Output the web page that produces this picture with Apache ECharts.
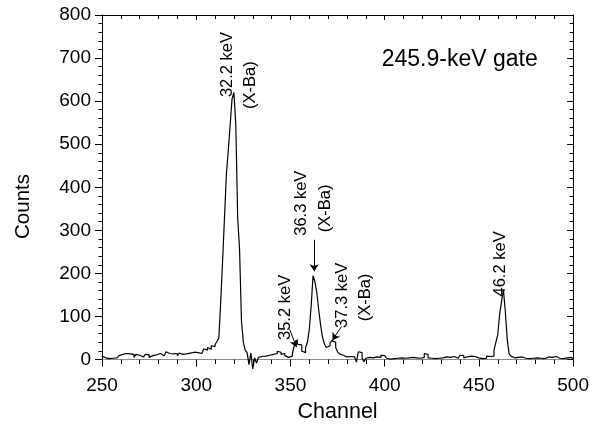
<!DOCTYPE html>
<html><head><meta charset="utf-8">
<script src="https://cdn.jsdelivr.net/npm/echarts@6/dist/echarts.min.js"></script>
<style>html,body{margin:0;padding:0;background:#fff}#c{width:592px;height:428px}</style>
</head><body><div id="c"></div>
<script>
const FONT = '"Liberation Sans", Arial, Helvetica, sans-serif';
const firstChannel = 250;
// counts per channel, channels 250..500
const counts = [
  8, 4, 6, 2, 4, 3, 5, 4, 6, 9,
  12, 10, 14, 11, 13, 9, 12, 5, 12, 10,
  13, 6, 10, 12, 11, 5, 9, 7, 11, 8,
  14, 10, 9, 12, 18, 14, 10, 13, 11, 14,
  9, 15, 12, 16, 13, 14, 15, 13, 17, 15,
  16, 20, 14, 18, 25, 22, 28, 24, 32, 30,
  35, 42, 50, 135, 230, 330, 430, 485, 545, 605,
  620, 545, 330, 255, 90, 40, 22, 16, -12, 15,
  -22, 4, -8, 5, 7, 4, 8, 6, 10, 7,
  12, 9, 14, 19, 17, 12, 14, 9, 5, 3,
  8, 14, 32, 45, 35, 34, 20, 16, 28, 40,
  70, 125, 195, 180, 155, 115, 80, 52, 36, 28,
  32, 38, 44, 40, 28, 18, 13, 10, 12, 6,
  4, 7, 3, 6, 2, -6, 18, 16, 4, -5,
  3, 5, 2, 4, 3, 6, 2, 5, 10, 9,
  8, 3, 1, 4, 2, 5, 3, 2, 4, 6,
  3, 7, 4, 2, 5, 3, 4, 6, 3, 2,
  5, 14, 12, 4, 3, 6, 2, 4, 3, 5,
  4, 2, 6, 3, 5, 2, 7, 4, 3, 6,
  10, 9, 4, 6, 3, 8, 5, 7, 3, 4,
  6, 2, 5, 3, 8, 7, 6, 8, 22, 40,
  58, 105, 135, 162, 112, 48, 13, 8, 4, 7,
  5, 2, 6, 4, 3, 5, 2, 4, 3, 7,
  4, 6, 3, 5, 2, 4, 6, 3, 5, 4,
  7, 6, 3, 5, 2, 6, 4, 3, 5, 2,
  3
];
const yTickValues = [0, 100, 200, 300, 400, 500, 600, 700, 800];
const yMinorValues = [0, 20, 40, 60, 80, 100, 120, 140, 160, 180, 200, 220, 240, 260, 280, 300,
  320, 340, 360, 380, 400, 420, 440, 460, 480, 500, 520, 540, 560, 580, 600, 620, 640, 660,
  680, 700, 720, 740, 760, 780, 800];
const peakLabels = ['32.2 keV', '(X-Ba)', '35.2 keV', '36.3 keV', '(X-Ba)', '37.3 keV', '(X-Ba)', '46.2 keV'];
const peakLabelAnchors = [[316.5, 685], [329, 637], [347.5, 121], [356, 363], [368.6, 351], [377.5, 149], [390, 144], [461.2, 222]];
const gateLabel = '245.9-keV gate';
const gateAnchor = [439.8, 697];
const arrowSegments = [
  [[349.6, 70], [353.2, 29]],
  [[362.6, 278], [362.6, 205]],
  [[377.1, 77], [372.3, 45]]
];

const chart = echarts.init(document.getElementById('c'), null, {renderer: 'canvas'});
const seriesData = counts.map((v, i) => [firstChannel + i, v]);
const yBase = {type: 'value', min: -15, max: 800, splitLine: {show: false}};
chart.setOption({
  animation: false,
  backgroundColor: '#fff',
  grid: {left: 102, right: 15, top: 15, bottom: 59, containLabel: false},
  xAxis: [
    {type: 'value', min: 250, max: 500, interval: 50, position: 'bottom',
     axisLine: {show: true, onZero: true, lineStyle: {color: '#8c8c8c', width: 1}},
     axisTick: {show: true, length: 7, lineStyle: {color: '#000'}},
     minorTick: {show: true, splitNumber: 5, length: 4.5, lineStyle: {color: '#000'}},
     axisLabel: {fontSize: 19, color: '#000', margin: 10, fontFamily: FONT},
     splitLine: {show: false},
     name: 'Channel', nameLocation: 'middle', nameGap: 35,
     nameTextStyle: {fontSize: 21.5, color: '#000', fontFamily: FONT}},
    {type: 'value', min: 250, max: 500, interval: 50, position: 'top',
     axisLine: {show: true, onZero: false, lineStyle: {color: '#000'}},
     axisTick: {show: true, inside: true, length: 5, lineStyle: {color: '#000'}},
     minorTick: {show: true, splitNumber: 5, length: 4, lineStyle: {color: '#000'}},
     axisLabel: {show: false}, splitLine: {show: false}}
  ],
  yAxis: [
    Object.assign({}, yBase, {position: 'left',
     axisLine: {show: true, onZero: false, lineStyle: {color: '#000'}},
     axisTick: {show: true, customValues: yTickValues, length: 7, lineStyle: {color: '#000'}},
     axisLabel: {customValues: yTickValues, fontSize: 19, color: '#000', margin: 11, fontFamily: FONT},
     name: 'Counts', nameLocation: 'middle', nameGap: 68,
     nameTextStyle: {fontSize: 20.5, color: '#000', fontFamily: FONT, padding: [0, 32, 0, 0]}}),
    Object.assign({}, yBase, {position: 'left',
     axisLine: {show: false, onZero: false},
     axisTick: {show: true, customValues: yMinorValues, length: 3.5, lineStyle: {color: '#000'}},
     axisLabel: {show: false}}),
    Object.assign({}, yBase, {position: 'right',
     axisLine: {show: true, onZero: false, lineStyle: {color: '#000'}},
     axisTick: {show: true, inside: true, customValues: yTickValues, length: 6, lineStyle: {color: '#000'}},
     axisLabel: {show: false}}),
    Object.assign({}, yBase, {position: 'right',
     axisLine: {show: false, onZero: false},
     axisTick: {show: true, inside: true, customValues: yMinorValues, length: 3.5, lineStyle: {color: '#000'}},
     axisLabel: {show: false}})
  ],
  series: [{
    type: 'line', xAxisIndex: 0, yAxisIndex: 0, step: 'end', data: seriesData,
    showSymbol: false, symbol: 'none', clip: false,
    lineStyle: {color: '#000', width: 1.2},
    markLine: {
      silent: true, symbol: ['none', 'arrow'], symbolSize: 7,
      label: {show: false},
      lineStyle: {color: '#000', width: 1, type: 'solid'},
      data: arrowSegments.map(s => [{coord: s[0]}, {coord: s[1]}])
    }
  }]
});

const graphics = peakLabels.map((t, i) => {
  const p = chart.convertToPixel({seriesIndex: 0}, peakLabelAnchors[i]);
  return {type: 'text', x: p[0], y: p[1], rotation: Math.PI / 2,
    style: {text: t, fontSize: 16.5, fontFamily: FONT, fill: '#000', align: 'center', verticalAlign: 'middle'}};
});
const gp = chart.convertToPixel({seriesIndex: 0}, gateAnchor);
graphics.push({type: 'text', x: gp[0], y: gp[1],
  style: {text: gateLabel, fontSize: 23, fontFamily: FONT, fill: '#000', align: 'center', verticalAlign: 'middle'}});
chart.setOption({graphic: graphics});
</script></body></html>
